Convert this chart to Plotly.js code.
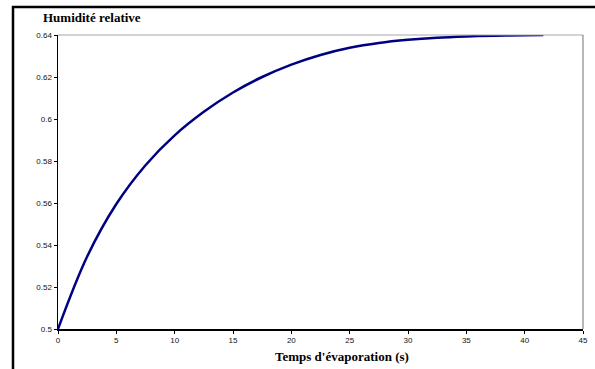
<!DOCTYPE html>
<html>
<head>
<meta charset="utf-8">
<script src="https://cdn.plot.ly/plotly-3.0.1.min.js"></script>
<style>html,body{margin:0;padding:0;background:#fff;}#chart{width:595px;height:369px;}</style>
</head>
<body>
<div id="chart"></div>
<script>
const temps = [0, 2.5, 5, 7.5, 10, 12.5, 15, 17.5, 20, 22.5, 25, 27.5, 30, 32.5, 35, 37.5, 40, 41.6];
const humidite = [0.5, 0.5345, 0.5595, 0.578, 0.5922, 0.6034, 0.6126, 0.62, 0.6259, 0.6305, 0.6339, 0.6362, 0.6377, 0.6387, 0.6393, 0.6397, 0.6399, 0.64];
const chartTitle = "Humidité relative";
const xTitle = "Temps d'évaporation (s)";

const trace = {
  x: temps, y: humidite, type: 'scatter', mode: 'lines',
  line: {color: '#000080', width: 2.5, shape: 'spline', smoothing: 1},
  hoverinfo: 'skip'
};

const layout = {
  width: 595, height: 369,
  margin: {l: 58, r: 12, t: 35, b: 40},
  paper_bgcolor: '#fff', plot_bgcolor: '#fff',
  showlegend: false,
  title: {text: '<b>' + chartTitle + '</b>', xref: 'container', yref: 'container', x: 43/595, xanchor: 'left', y: 1 - 17/369, yanchor: 'middle',
    font: {family: 'Liberation Serif', size: 13, color: '#000'}},
  xaxis: {range: [0, 45], dtick: 5, tick0: 0, showgrid: false, zeroline: false,
    showline: true, linecolor: '#000', linewidth: 1.5, ticks: 'outside', ticklen: 3, tickcolor: '#000',
    tickfont: {family: 'Liberation Sans', size: 8, color: '#111'}},
  yaxis: {range: [0.5, 0.64], dtick: 0.02, tick0: 0.5, showgrid: false, zeroline: false,
    showline: true, linecolor: '#000', linewidth: 1.5, ticks: 'outside', ticklen: 3, tickcolor: '#000',
    tickfont: {family: 'Liberation Sans', size: 8, color: '#111'}},
  annotations: [{text: '<b>' + xTitle + '</b>', xref: 'paper', yref: 'paper', x: (342-58)/525, y: (329-356)/294,
    xanchor: 'center', yanchor: 'middle', showarrow: false, font: {family: 'Liberation Serif', size: 13, color: '#000'}}],
  shapes: [
    {type: 'line', xref: 'paper', yref: 'paper', x0: 0, x1: 1, y0: 1, y1: 1, line: {color: '#a8a8a8', width: 1.2}},
    {type: 'line', xref: 'paper', yref: 'paper', x0: 1, x1: 1, y0: 0, y1: 1, line: {color: '#888', width: 1.2}},
    {type: 'path', xref: 'paper', yref: 'paper',
     path: 'M ' + ((13-58)/525) + ' ' + ((329-375)/294) + ' L ' + ((13-58)/525) + ' ' + (1 + 28/294) + ' L ' + ((600-58)/525) + ' ' + (1 + 28/294),
     line: {color: '#000', width: 2.5}}
  ]
};

Plotly.newPlot('chart', [trace], layout, {displayModeBar: false, staticPlot: true});
</script>
</body>
</html>
